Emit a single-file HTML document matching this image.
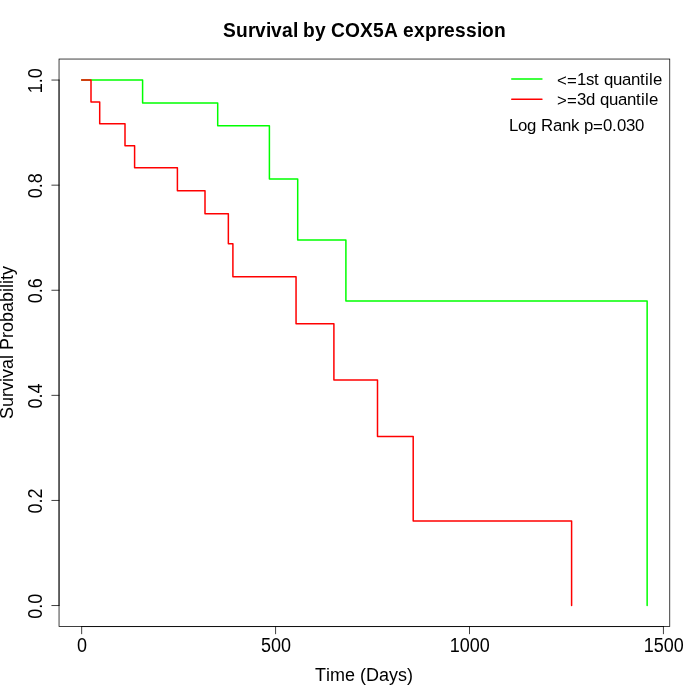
<!DOCTYPE html>
<html><head><meta charset="utf-8"><title>Survival by COX5A expression</title>
<style>html,body{margin:0;padding:0;background:#fff}svg{display:block}text{font-family:"Liberation Sans",Arial,Helvetica,sans-serif;fill:#000}</style></head><body>
<svg width="700" height="700" viewBox="0 0 700 700">
<rect width="700" height="700" fill="#fff"/>
<path d="M81.66 80.06 H142.60 V102.91 H217.70 V125.75 H269.40 V179.06 H297.70 V239.99 H345.90 V300.91 H647.14 V605.54" fill="none" stroke="#00ff00" stroke-width="1.5" stroke-linejoin="round" stroke-linecap="round"/>
<path d="M81.66 80.06 H91.00 V101.95 H99.70 V123.85 H125.00 V145.74 H134.60 V167.64 H177.40 V190.69 H205.00 V213.73 H228.35 V243.87 H232.90 V276.75 H296.05 V323.72 H333.90 V380.09 H377.50 V436.45 H413.20 V521.00 H571.60 V605.54" fill="none" stroke="#ff0000" stroke-width="1.5" stroke-linejoin="round" stroke-linecap="round"/>
<g stroke="#000" stroke-width="0.75" fill="none" stroke-linecap="round">
<path d="M81.66 626.56 H663.43"/>
<path d="M81.66 626.56 v7.2"/>
<path d="M275.58 626.56 v7.2"/>
<path d="M469.51 626.56 v7.2"/>
<path d="M663.43 626.56 v7.2"/>
<path d="M59.04 605.54 V80.06"/>
<path d="M59.04 605.54 h-7.2"/>
<path d="M59.04 500.44 h-7.2"/>
<path d="M59.04 395.35 h-7.2"/>
<path d="M59.04 290.25 h-7.2"/>
<path d="M59.04 185.16 h-7.2"/>
<path d="M59.04 80.06 h-7.2"/>
<rect x="59.04" y="59.04" width="610.72" height="567.52"/>
<path d="M511.75 79.0 H541.95" stroke="#00ff00" stroke-width="1.5"/>
<path d="M511.75 99.2 H541.95" stroke="#ff0000" stroke-width="1.5"/>
</g>
<text transform="translate(81.96 651.80) scale(1 1.08)" x="-5" y="0" font-size="18">0</text>
<text transform="translate(275.88 651.80) scale(1 1.08)" x="-15 -5 5" y="0" font-size="18">500</text>
<text transform="translate(469.81 651.80) scale(1 1.08)" x="-20 -10 0 10" y="0" font-size="18">1000</text>
<text transform="translate(663.73 651.80) scale(1 1.08)" x="-20 -10 0 10" y="0" font-size="18">1500</text>
<text transform="translate(41.70 606.14) rotate(-90) scale(1 1.08)" x="-12.5 -2.5 2.5" y="0" font-size="18">0.0</text>
<text transform="translate(41.70 501.04) rotate(-90) scale(1 1.08)" x="-12.5 -2.5 2.5" y="0" font-size="18">0.2</text>
<text transform="translate(41.70 395.95) rotate(-90) scale(1 1.08)" x="-12.5 -2.5 2.5" y="0" font-size="18">0.4</text>
<text transform="translate(41.70 290.85) rotate(-90) scale(1 1.08)" x="-12.5 -2.5 2.5" y="0" font-size="18">0.6</text>
<text transform="translate(41.70 185.76) rotate(-90) scale(1 1.08)" x="-12.5 -2.5 2.5" y="0" font-size="18">0.8</text>
<text transform="translate(41.70 80.66) rotate(-90) scale(1 1.08)" x="-12.5 -2.5 2.5" y="0" font-size="18">1.0</text>
<text transform="translate(363.90 681.00) scale(1 1.045)" x="-49 -38 -34 -19 -9 -4 2 15 25 34 43" y="0" font-size="18">Time (Days)</text>
<text transform="translate(12.60 342.50) rotate(-90) scale(1 1.045)" x="-76.5 -64.5 -54.5 -48.5 -39.5 -35.5 -26.5 -16.5 -12.5 -7.5 4.5 10.5 20.5 30.5 40.5 50.5 54.5 58.5 62.5 67.5" y="0" font-size="18">Survival Probability</text>
<text transform="translate(364.50 37.00) scale(1 1.1)" x="-141.5 -128.5 -116.5 -109.5 -98.5 -93.5 -82.5 -71.5 -66.5 -61.5 -49.5 -38.5 -33.5 -19.5 -4.5 8.5 19.5 33.5 38.5 49.5 60.5 72.5 79.5 90.5 101.5 112.5 117.5 129.5" y="0" font-size="19.2" font-weight="bold">Survival by COX5A expression</text>
<text transform="translate(556.90 84.60) scale(1 1.035)" x="0 10 20 29 37 42 47 56 65 74 83 88 92 96" y="1.35 1.35 0 0 0 0 0 0 0 0 0 0 0 0" font-size="16.8">&lt;=1st quantile</text>
<text transform="translate(556.90 104.50) scale(1 1.035)" x="0 10 20 29 38 43 52 61 70 79 84 88 92" y="1.35 1.35 0 0 0 0 0 0 0 0 0 0 0" font-size="16.8">&gt;=3d quantile</text>
<text transform="translate(509.10 130.80) scale(1 1.035)" x="0 9 18 27 32 44 53 62 70 75 84 94 103 108 117 126" y="0 0 0 0 0 0 0 0 0 0 1.35 0 0 0 0 0" font-size="16.8">Log Rank p=0.030</text>
</svg></body></html>
